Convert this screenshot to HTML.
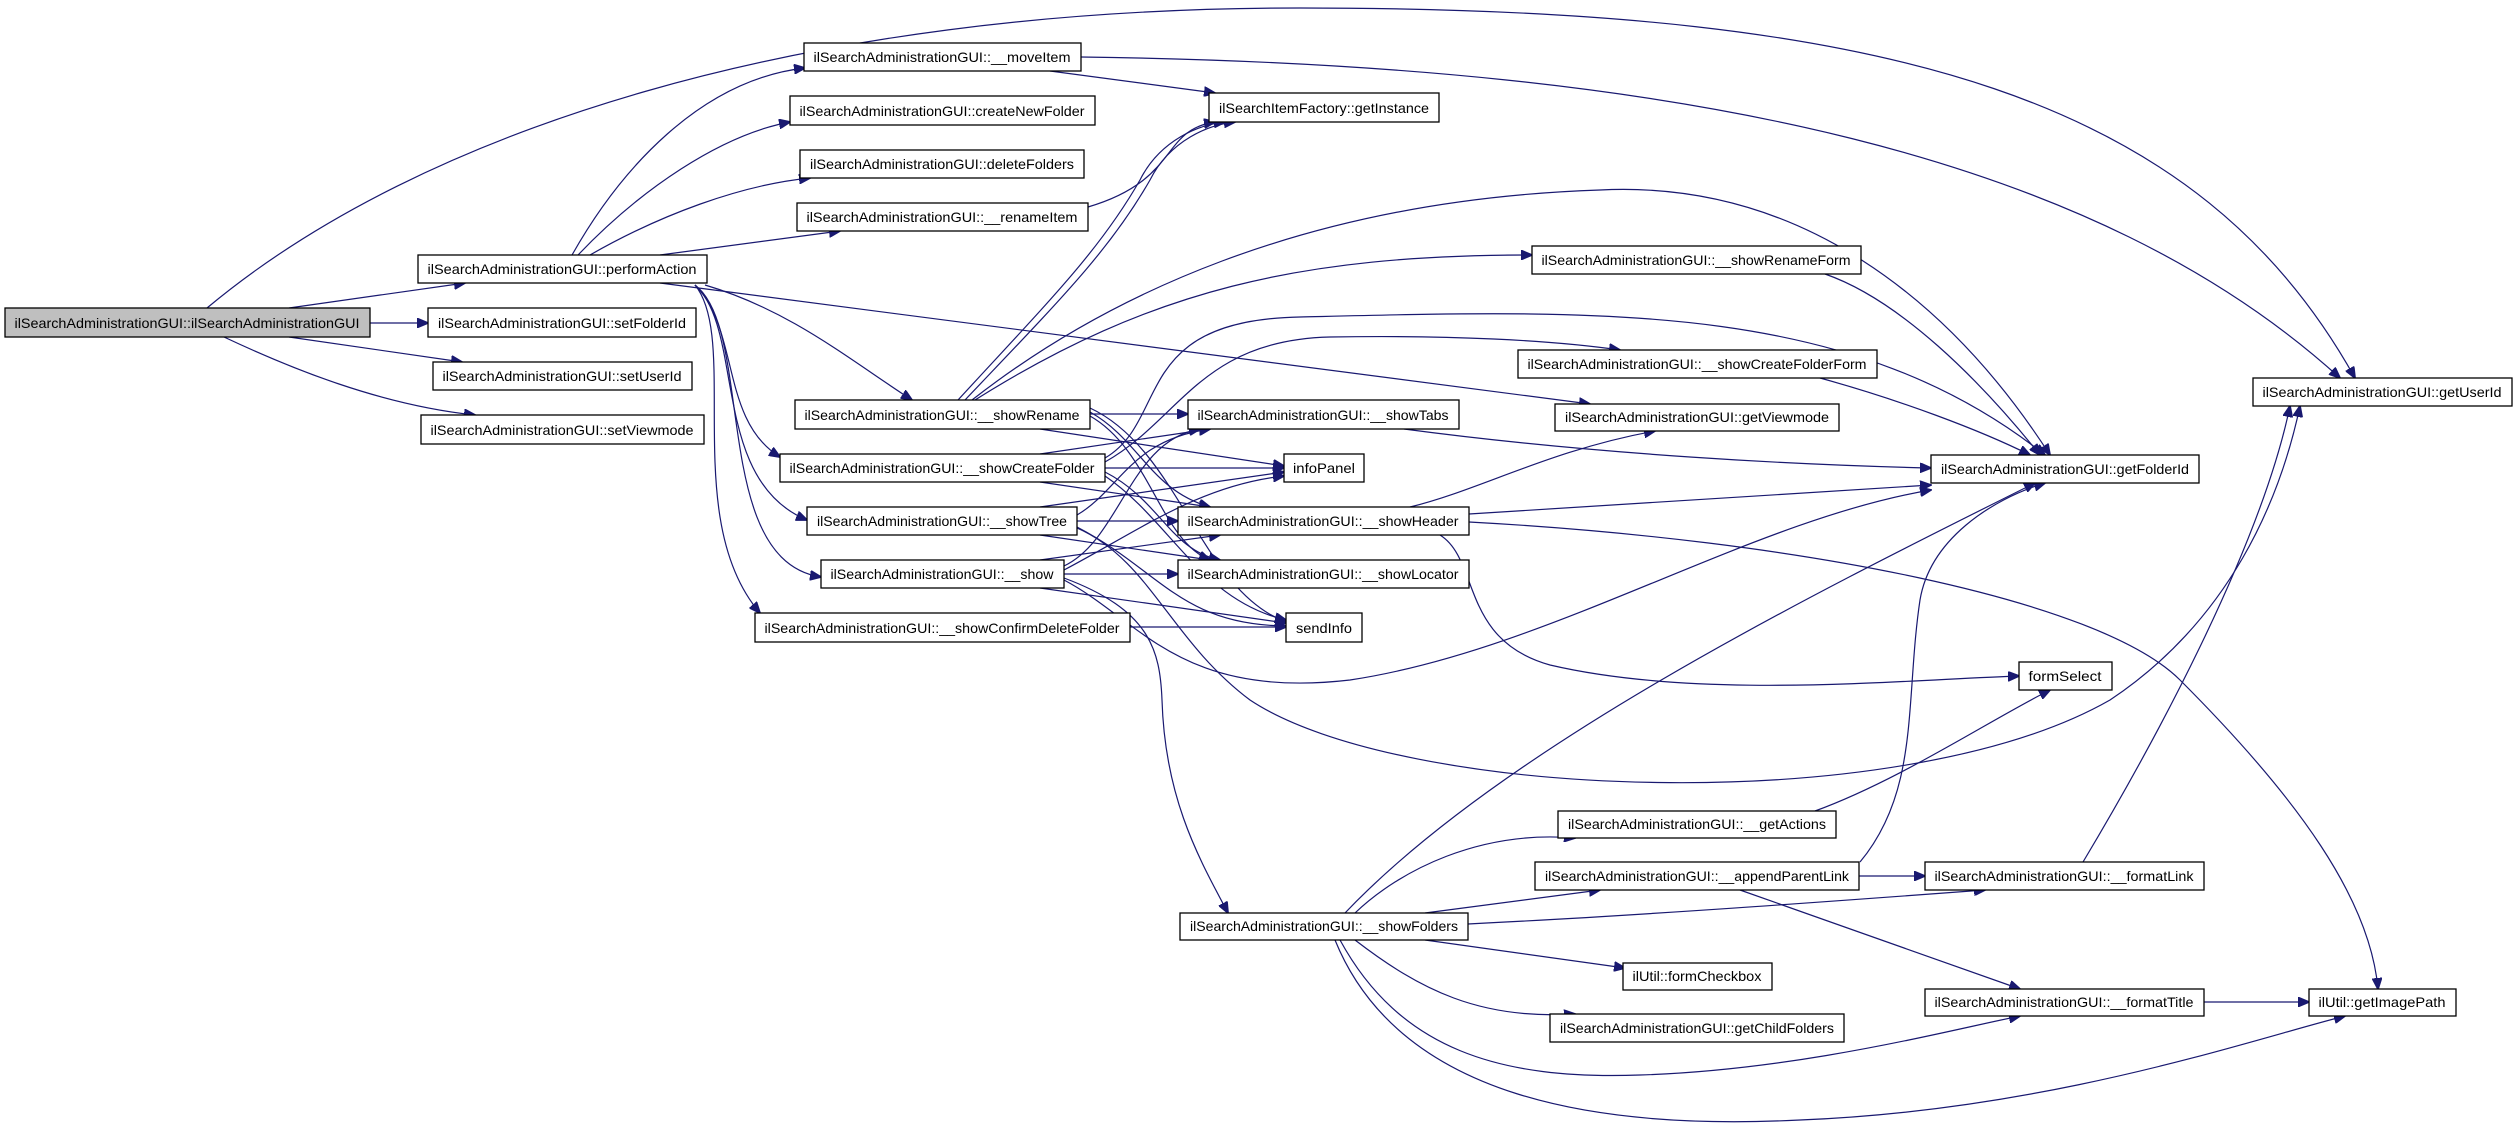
<!DOCTYPE html>
<html><head><meta charset="utf-8"><style>
html,body{margin:0;padding:0;background:#fff;}
svg{display:block;}
text{font-family:"Liberation Sans",sans-serif;font-size:14px;fill:#000;}
.n{fill:#fff;stroke:#000;stroke-width:1.3;}
.e{fill:none;stroke:#191970;stroke-width:1.2;marker-end:url(#a);}
</style></head><body>
<svg width="2517" height="1145" viewBox="0 0 2517 1145" xmlns="http://www.w3.org/2000/svg">
<defs><marker id="a" markerWidth="12" markerHeight="10" refX="11" refY="5" orient="auto" markerUnits="userSpaceOnUse"><path d="M0,0 L12,5 L0,10 z" fill="#191970" stroke="#191970"/></marker></defs>
<g>
<path class="e" d="M289,308 L465,283"/>
<path class="e" d="M370,323 L428,323"/>
<path class="e" d="M289,337 L462,362"/>
<path class="e" d="M224,337 C290,368 380,405 475,415"/>
<path class="e" d="M207,308 C420,130 800,8 1300,8 C1900,8 2200,100 2355,378"/>
<path class="e" d="M572,255 C620,170 700,80 805,68"/>
<path class="e" d="M578,255 C640,190 720,135 790,122"/>
<path class="e" d="M590,255 C660,215 740,185 810,178"/>
<path class="e" d="M660,255 L840,231"/>
<path class="e" d="M705,285 C790,310 850,360 912,400"/>
<path class="e" d="M695,285 C740,330 720,420 780,457"/>
<path class="e" d="M695,285 C745,330 710,480 807,520"/>
<path class="e" d="M695,285 C755,330 710,560 821,577"/>
<path class="e" d="M695,285 C740,340 680,520 760,613"/>
<path class="e" d="M660,283 L1590,404"/>
<path class="e" d="M1050,71 L1215,93"/>
<path class="e" d="M1081,57 C1700,65 2100,160 2340,378"/>
<path class="e" d="M1088,207 C1180,180 1160,130 1215,122"/>
<path class="e" d="M958,400 C1050,300 1100,250 1140,180 C1160,140 1200,124 1225,122"/>
<path class="e" d="M965,400 C1060,300 1110,250 1150,180 C1170,140 1210,124 1235,122"/>
<path class="e" d="M972,400 C1100,300 1300,200 1600,190 C1800,180 1950,300 2050,455"/>
<path class="e" d="M975,400 C1150,290 1300,255 1532,255"/>
<path class="e" d="M1090,414 L1188,414"/>
<path class="e" d="M1040,429 L1284,466"/>
<path class="e" d="M1090,408 C1180,450 1200,590 1286,622"/>
<path class="e" d="M1090,412 C1140,440 1150,490 1210,507"/>
<path class="e" d="M1090,416 C1150,450 1160,540 1210,560"/>
<path class="e" d="M1105,458 C1170,420 1130,320 1300,317 C1600,310 1850,300 2045,455"/>
<path class="e" d="M1105,462 C1180,420 1200,340 1330,337 C1450,335 1550,340 1620,350"/>
<path class="e" d="M1040,454 L1210,429"/>
<path class="e" d="M1105,468 L1284,468"/>
<path class="e" d="M1040,482 L1210,507"/>
<path class="e" d="M1105,472 C1160,500 1170,550 1220,560"/>
<path class="e" d="M1105,476 C1170,520 1200,600 1286,620"/>
<path class="e" d="M1077,515 C1120,490 1130,440 1210,429"/>
<path class="e" d="M1040,507 L1284,472"/>
<path class="e" d="M1077,521 L1178,521"/>
<path class="e" d="M1040,535 L1210,560"/>
<path class="e" d="M1077,527 C1160,570 1180,625 1286,626"/>
<path class="e" d="M1077,528 C1150,560 1170,640 1250,700 C1400,800 1900,820 2110,700 C2230,620 2280,500 2300,406"/>
<path class="e" d="M1064,566 C1120,540 1130,440 1200,429"/>
<path class="e" d="M1064,570 C1140,530 1200,485 1284,476"/>
<path class="e" d="M1040,560 L1220,535"/>
<path class="e" d="M1064,574 L1178,574"/>
<path class="e" d="M1040,588 L1286,623"/>
<path class="e" d="M1064,578 C1150,610 1160,650 1162,700 C1165,800 1200,860 1228,913"/>
<path class="e" d="M1064,580 C1140,620 1180,700 1350,680 C1550,650 1750,520 1931,490"/>
<path class="e" d="M1130,627 L1286,627"/>
<path class="e" d="M1404,429 C1600,455 1800,465 1931,468"/>
<path class="e" d="M1469,514 C1700,500 1850,490 1931,485"/>
<path class="e" d="M1410,507 C1480,490 1550,450 1655,431"/>
<path class="e" d="M1440,535 C1480,560 1460,640 1550,665 C1700,700 1900,680 2019,676"/>
<path class="e" d="M1469,522 C1800,540 2100,600 2180,680 C2300,800 2370,900 2378,989"/>
<path class="e" d="M1825,274 C1900,300 1980,380 2040,455"/>
<path class="e" d="M1820,378 C1900,400 1980,430 2030,455"/>
<path class="e" d="M1345,913 C1500,750 1800,600 2035,483"/>
<path class="e" d="M1355,913 C1400,870 1480,830 1575,838"/>
<path class="e" d="M1425,913 L1600,890"/>
<path class="e" d="M1468,924 C1650,915 1850,900 1985,890"/>
<path class="e" d="M1425,940 L1625,968"/>
<path class="e" d="M1355,940 C1420,990 1480,1020 1575,1014"/>
<path class="e" d="M1340,940 C1400,1050 1500,1080 1640,1075 C1800,1070 1950,1030 2020,1016"/>
<path class="e" d="M1335,940 C1400,1100 1600,1130 1800,1120 C2050,1110 2250,1040 2345,1016"/>
<path class="e" d="M1815,811 C1900,780 1990,720 2050,690"/>
<path class="e" d="M1860,862 C1920,790 1905,700 1920,600 C1930,540 1990,500 2045,483"/>
<path class="e" d="M1859,876 L1925,876"/>
<path class="e" d="M1740,890 L2020,989"/>
<path class="e" d="M2083,862 C2150,750 2260,550 2290,406"/>
<path class="e" d="M2204,1002 L2309,1002"/>
</g>
<g>
<rect x="5" y="308" width="365" height="29" fill="#bfbfbf" stroke="#000" stroke-width="1.3"/><text x="187" y="328" text-anchor="middle" textLength="345" lengthAdjust="spacingAndGlyphs">ilSearchAdministrationGUI::ilSearchAdministrationGUI</text>
<rect class="n" x="418" y="255" width="289" height="28"/><text x="562" y="274" text-anchor="middle" textLength="269" lengthAdjust="spacingAndGlyphs">ilSearchAdministrationGUI::performAction</text>
<rect class="n" x="428" y="308" width="268" height="29"/><text x="562" y="328" text-anchor="middle" textLength="248" lengthAdjust="spacingAndGlyphs">ilSearchAdministrationGUI::setFolderId</text>
<rect class="n" x="433" y="362" width="259" height="28"/><text x="562" y="381" text-anchor="middle" textLength="239" lengthAdjust="spacingAndGlyphs">ilSearchAdministrationGUI::setUserId</text>
<rect class="n" x="421" y="415" width="283" height="29"/><text x="562" y="435" text-anchor="middle" textLength="263" lengthAdjust="spacingAndGlyphs">ilSearchAdministrationGUI::setViewmode</text>
<rect class="n" x="804" y="43" width="277" height="28"/><text x="942" y="62" text-anchor="middle" textLength="257" lengthAdjust="spacingAndGlyphs">ilSearchAdministrationGUI::__moveItem</text>
<rect class="n" x="790" y="96" width="305" height="29"/><text x="942" y="116" text-anchor="middle" textLength="285" lengthAdjust="spacingAndGlyphs">ilSearchAdministrationGUI::createNewFolder</text>
<rect class="n" x="800" y="150" width="284" height="28"/><text x="942" y="169" text-anchor="middle" textLength="264" lengthAdjust="spacingAndGlyphs">ilSearchAdministrationGUI::deleteFolders</text>
<rect class="n" x="797" y="203" width="291" height="28"/><text x="942" y="222" text-anchor="middle" textLength="271" lengthAdjust="spacingAndGlyphs">ilSearchAdministrationGUI::__renameItem</text>
<rect class="n" x="1209" y="93" width="230" height="29"/><text x="1324" y="113" text-anchor="middle" textLength="210" lengthAdjust="spacingAndGlyphs">ilSearchItemFactory::getInstance</text>
<rect class="n" x="795" y="400" width="295" height="29"/><text x="942" y="420" text-anchor="middle" textLength="275" lengthAdjust="spacingAndGlyphs">ilSearchAdministrationGUI::__showRename</text>
<rect class="n" x="780" y="454" width="325" height="28"/><text x="942" y="473" text-anchor="middle" textLength="305" lengthAdjust="spacingAndGlyphs">ilSearchAdministrationGUI::__showCreateFolder</text>
<rect class="n" x="807" y="507" width="270" height="28"/><text x="942" y="526" text-anchor="middle" textLength="250" lengthAdjust="spacingAndGlyphs">ilSearchAdministrationGUI::__showTree</text>
<rect class="n" x="821" y="560" width="243" height="28"/><text x="942" y="579" text-anchor="middle" textLength="223" lengthAdjust="spacingAndGlyphs">ilSearchAdministrationGUI::__show</text>
<rect class="n" x="755" y="613" width="375" height="29"/><text x="942" y="633" text-anchor="middle" textLength="355" lengthAdjust="spacingAndGlyphs">ilSearchAdministrationGUI::__showConfirmDeleteFolder</text>
<rect class="n" x="1188" y="400" width="271" height="29"/><text x="1323" y="420" text-anchor="middle" textLength="251" lengthAdjust="spacingAndGlyphs">ilSearchAdministrationGUI::__showTabs</text>
<rect class="n" x="1284" y="454" width="80" height="28"/><text x="1324" y="473" text-anchor="middle" textLength="62" lengthAdjust="spacingAndGlyphs">infoPanel</text>
<rect class="n" x="1178" y="507" width="291" height="28"/><text x="1323" y="526" text-anchor="middle" textLength="271" lengthAdjust="spacingAndGlyphs">ilSearchAdministrationGUI::__showHeader</text>
<rect class="n" x="1178" y="560" width="291" height="28"/><text x="1323" y="579" text-anchor="middle" textLength="271" lengthAdjust="spacingAndGlyphs">ilSearchAdministrationGUI::__showLocator</text>
<rect class="n" x="1286" y="613" width="76" height="29"/><text x="1324" y="633" text-anchor="middle" textLength="56" lengthAdjust="spacingAndGlyphs">sendInfo</text>
<rect class="n" x="1532" y="246" width="329" height="28"/><text x="1696" y="265" text-anchor="middle" textLength="309" lengthAdjust="spacingAndGlyphs">ilSearchAdministrationGUI::__showRenameForm</text>
<rect class="n" x="1518" y="350" width="359" height="28"/><text x="1697" y="369" text-anchor="middle" textLength="339" lengthAdjust="spacingAndGlyphs">ilSearchAdministrationGUI::__showCreateFolderForm</text>
<rect class="n" x="1555" y="404" width="284" height="27"/><text x="1697" y="422" text-anchor="middle" textLength="264" lengthAdjust="spacingAndGlyphs">ilSearchAdministrationGUI::getViewmode</text>
<rect class="n" x="1931" y="455" width="268" height="28"/><text x="2065" y="474" text-anchor="middle" textLength="248" lengthAdjust="spacingAndGlyphs">ilSearchAdministrationGUI::getFolderId</text>
<rect class="n" x="2253" y="378" width="259" height="28"/><text x="2382" y="397" text-anchor="middle" textLength="239" lengthAdjust="spacingAndGlyphs">ilSearchAdministrationGUI::getUserId</text>
<rect class="n" x="2019" y="662" width="93" height="28"/><text x="2065" y="681" text-anchor="middle" textLength="73" lengthAdjust="spacingAndGlyphs">formSelect</text>
<rect class="n" x="1558" y="811" width="278" height="27"/><text x="1697" y="829" text-anchor="middle" textLength="258" lengthAdjust="spacingAndGlyphs">ilSearchAdministrationGUI::__getActions</text>
<rect class="n" x="1535" y="862" width="324" height="28"/><text x="1697" y="881" text-anchor="middle" textLength="304" lengthAdjust="spacingAndGlyphs">ilSearchAdministrationGUI::__appendParentLink</text>
<rect class="n" x="1925" y="862" width="279" height="28"/><text x="2064" y="881" text-anchor="middle" textLength="259" lengthAdjust="spacingAndGlyphs">ilSearchAdministrationGUI::__formatLink</text>
<rect class="n" x="1180" y="913" width="288" height="27"/><text x="1324" y="931" text-anchor="middle" textLength="268" lengthAdjust="spacingAndGlyphs">ilSearchAdministrationGUI::__showFolders</text>
<rect class="n" x="1623" y="963" width="149" height="27"/><text x="1697" y="981" text-anchor="middle" textLength="129" lengthAdjust="spacingAndGlyphs">ilUtil::formCheckbox</text>
<rect class="n" x="1550" y="1014" width="294" height="28"/><text x="1697" y="1033" text-anchor="middle" textLength="274" lengthAdjust="spacingAndGlyphs">ilSearchAdministrationGUI::getChildFolders</text>
<rect class="n" x="1925" y="989" width="279" height="27"/><text x="2064" y="1007" text-anchor="middle" textLength="259" lengthAdjust="spacingAndGlyphs">ilSearchAdministrationGUI::__formatTitle</text>
<rect class="n" x="2309" y="989" width="147" height="27"/><text x="2382" y="1007" text-anchor="middle" textLength="127" lengthAdjust="spacingAndGlyphs">ilUtil::getImagePath</text>
</g>
</svg>
</body></html>
